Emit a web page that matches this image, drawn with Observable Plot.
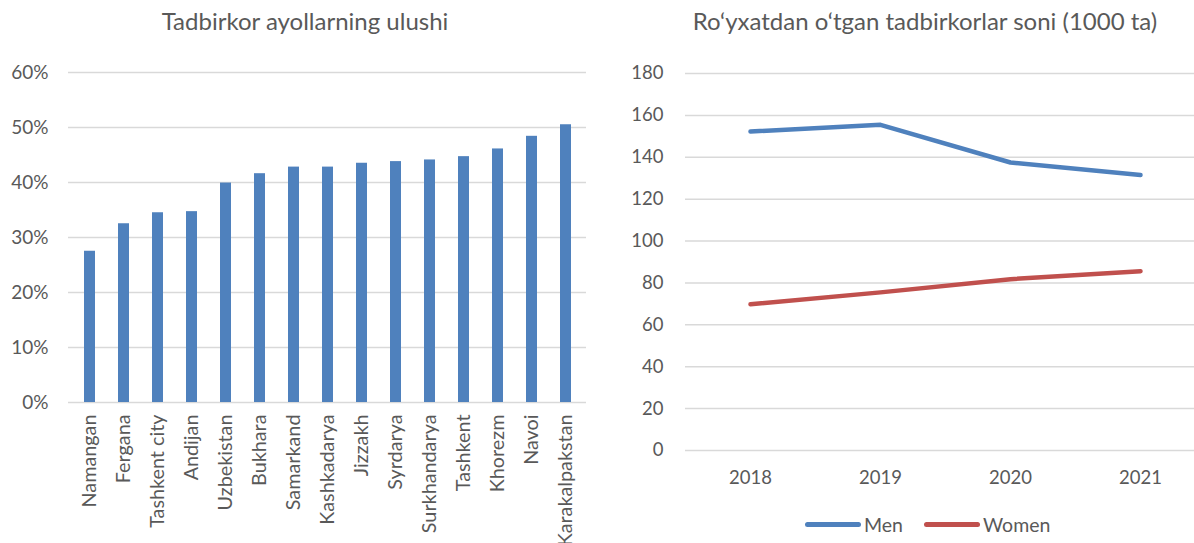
<!DOCTYPE html>
<html>
<head>
<meta charset="utf-8">
<script src="https://cdn.jsdelivr.net/npm/d3@7"></script>
<script src="https://cdn.jsdelivr.net/npm/@observablehq/plot@0.6"></script>
<style>
  html, body { margin: 0; padding: 0; background: #fff; }
  #wrap { position: relative; width: 1194px; height: 543px; overflow: hidden; font-family: Lato, "Open Sans", sans-serif; color: #595959; }
  .title { position: absolute; top: 6px; font-size: 24px; color: #595959; white-space: nowrap; transform: translateX(-50%); }
  .plot { position: absolute; top: 0; }
  .plot svg { max-width: none !important; }
  #legend { position: absolute; top: 513px; left: 805px; display: flex; align-items: center; font-size: 19.5px; color: #595959; }
  .sw { display: inline-block; width: 56px; height: 5px; border-radius: 3px; margin-right: 3px; }
</style>
</head>
<body>
<div id="wrap">
  <div class="title" id="t1" style="left:305px">Tadbirkor ayollarning ulushi</div>
  <div class="title" id="t2" style="left:925px">Ro‘yxatdan o‘tgan tadbirkorlar soni (1000 ta)</div>
  <div class="plot" id="p1" style="left:0; width:610px"></div>
  <div class="plot" id="p2" style="left:600px; width:620px"></div>
  <div id="legend">
    <span class="sw" style="background:#4F81BD"></span><span style="margin-right:21px">Men</span>
    <span class="sw" style="background:#C0504D"></span><span>Women</span>
  </div>
</div>
<script>
// ---- Data ----
const regions = ["Namangan", "Fergana", "Tashkent city", "Andijan", "Uzbekistan", "Bukhara", "Samarkand", "Kashkadarya", "Jizzakh", "Syrdarya", "Surkhandarya", "Tashkent", "Khorezm", "Navoi", "Karakalpakstan"];
const womenShare = [0.275, 0.325, 0.345, 0.347, 0.399, 0.416, 0.428, 0.428, 0.435, 0.438, 0.441, 0.447, 0.461, 0.484, 0.505];
const shareTicks = [0, 0.1, 0.2, 0.3, 0.4, 0.5, 0.6];

const years = ["2018", "2019", "2020", "2021"];
const men = [152.3, 155.5, 137.5, 131.5];
const women = [69.8, 75.5, 81.8, 85.6];
const countTicks = [0, 20, 40, 60, 80, 100, 120, 140, 160, 180];
const seriesNames = ["Men", "Women"];
const seriesColors = ["#4F81BD", "#C0504D"];

// ---- Left chart ----
const barData = regions.map((r, i) => ({region: r, share: womenShare[i]}));
const left = Plot.plot({
  width: 610, height: 543,
  marginLeft: 68, marginRight: 24, marginTop: 72, marginBottom: 141,
  style: {fontFamily: "Lato, 'Open Sans', sans-serif", fontSize: "19px", color: "#595959", background: "transparent"},
  x: {domain: regions, paddingInner: 0.69, paddingOuter: 0.345, label: null},
  y: {domain: [0, 0.6], label: null},
  marks: [
    Plot.ruleY(shareTicks, {stroke: "#D9D9D9", strokeWidth: 1.5}),
    Plot.barY(barData, {x: "region", y: "share", fill: "#4F81BD"}),
    Plot.axisY({ticks: shareTicks, tickFormat: d3.format(".0%"), tickSize: 0, tickPadding: 20, fontSize: 19, label: null}),
    Plot.axisX({tickSize: 0, tickPadding: 12, tickRotate: -90, fontSize: 19.8, label: null})
  ]
});
document.getElementById("p1").appendChild(left);

// ---- Right chart ----
const lineData = [];
seriesNames.forEach((s, k) => {
  const vals = k === 0 ? men : women;
  years.forEach((y, i) => lineData.push({series: s, year: y, value: vals[i]}));
});
const right = Plot.plot({
  width: 620, height: 543,
  marginLeft: 85, marginRight: 15, marginTop: 73, marginBottom: 93,
  style: {fontFamily: "Lato, 'Open Sans', sans-serif", fontSize: "18.5px", color: "#595959", background: "transparent"},
  x: {type: "point", domain: years, padding: 0.5, label: null},
  y: {domain: [0, 180], label: null},
  color: {domain: seriesNames, range: seriesColors},
  marks: [
    Plot.ruleY(countTicks, {stroke: "#D9D9D9", strokeWidth: 1.5}),
    Plot.line(lineData, {x: "year", y: "value", z: "series", stroke: "series", strokeWidth: 4.5, strokeLinecap: "round", strokeLinejoin: "round"}),
    Plot.axisY({ticks: countTicks, tickSize: 0, tickPadding: 22, fontSize: 18.5, label: null}),
    Plot.axisX({tickSize: 0, tickPadding: 20, fontSize: 18.5, label: null})
  ]
});
document.getElementById("p2").appendChild(right);
</script>
</body>
</html>
